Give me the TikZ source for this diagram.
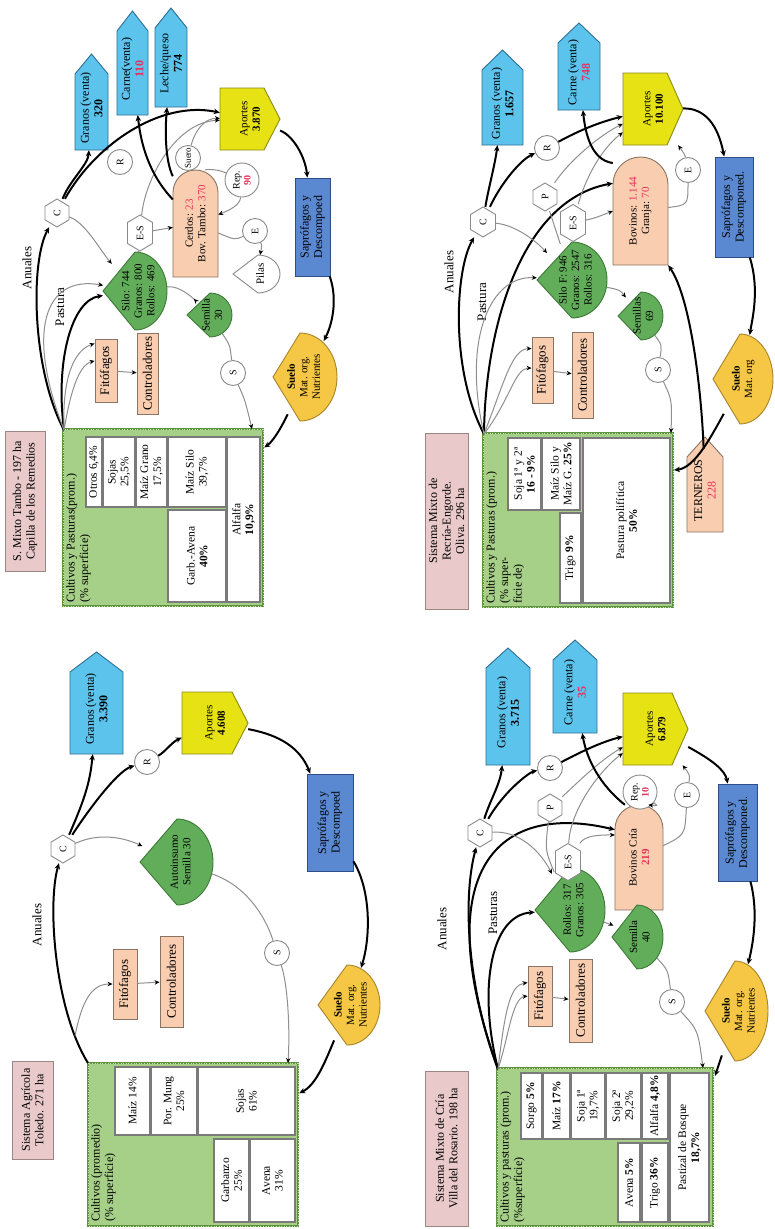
\documentclass[tikz,border=0pt]{standalone}
\usepackage{fontspec}
\setmainfont{Liberation Serif}
\usetikzlibrary{arrows.meta,shapes.geometric}
\definecolor{titlefill}{HTML}{E9C9C9}
\definecolor{titleb}{HTML}{9C8585}
\definecolor{cropfill}{HTML}{A6CF87}
\definecolor{cropdark}{HTML}{5E9440}
\definecolor{croplight}{HTML}{C9E3B5}
\definecolor{peach}{HTML}{F9CDB0}
\definecolor{peachb}{HTML}{8A7463}
\definecolor{dropgreen}{HTML}{62AD5A}
\definecolor{dropgreenb}{HTML}{3C7A36}
\definecolor{skyblue}{HTML}{5CC3EC}
\definecolor{skyb}{HTML}{2F6F93}
\definecolor{yel}{HTML}{E6E213}
\definecolor{yelb}{HTML}{8C8A1C}
\definecolor{saprfill}{HTML}{5A89D2}
\definecolor{saprb}{HTML}{2D4E87}
\definecolor{suelfill}{HTML}{F6C744}
\definecolor{suelb}{HTML}{A8842A}
\definecolor{nodegray}{HTML}{8A8A8A}
\definecolor{linegray}{HTML}{8F8F8F}
\definecolor{cellb}{HTML}{7A7A7A}
\definecolor{numred}{HTML}{E8315B}
\newcommand\fsA{\fontsize{12}{13.5}\selectfont}
\newcommand\fsL{\fontsize{13}{14.5}\selectfont}
\newcommand\fsB{\fontsize{11}{12.5}\selectfont}
\newcommand\fsK{\fontsize{11.5}{12.8}\selectfont}
\newcommand\fsC{\fontsize{10}{11}\selectfont}
\newcommand\redtxt[1]{\textcolor{numred}{#1}}
% rectangle node from page extents: style, name, x1, x2, y1, y2, text
\newcommand\mkbox[7]{\node[#1, minimum width={#6-#5}, minimum height={#4-#3}] (#2) at ({(#3+#4)/2},{(#5+#6)/2}) {#7};}
% box with a point towards the top of the page: style, name, x1, x2, ytip, ybottom, text
\newcommand\mkup[7]{%
  \draw[#1] (#3,#6) -- (#3,{#5+20}) -- ({(#3+#4)/2},#5) -- (#4,{#5+20}) -- (#4,#6) -- cycle;
  \node[inner sep=0pt, minimum width={#6-#5-12}, minimum height={#4-#3}] (#2) at ({(#3+#4)/2},{(#5+#6)/2+6}) {#7};}
% pentagon pointing to the right of the page: name, x1, x2, y1, y2, text
\newcommand\mkaport[6]{%
  \draw[aportst] (#2,#4) -- ({#3-16},#4) -- (#3,{(#4+#5)/2}) -- ({#3-16},#5) -- (#2,#5) -- cycle;
  \node[inner sep=0pt, minimum width={#5-#4}, minimum height={#3-#2}, font=\fsB] (#1) at ({(#2+#3)/2},{(#4+#5)/2}) {#6};}
% box rounded at its top: name, x1, x2, ytop, ybottom, text
\newcommand\mktomb[6]{%
  \draw[peachst] (#2,#5) -- (#2,{#4+(#3-#2)/2})
    .. controls (#2,{#4+(#3-#2)/2*0.4477}) and ({(#2+#3)/2-(#3-#2)/2*0.5523},#4) .. ({(#2+#3)/2},#4)
    .. controls ({(#2+#3)/2+(#3-#2)/2*0.5523},#4) and (#3,{#4+(#3-#2)/2*0.4477}) .. (#3,{#4+(#3-#2)/2})
    -- (#3,#5) -- cycle;
  \node[inner sep=0pt, minimum width={#5-#4}, minimum height={#3-#2}, font=\fsB] (#1) at ({(#2+#3)/2},{(#4+#5)/2}) {#6};}
% drop shape, point to the left of the page: style, name, xpoint, cx, cy, rx, ry, text
\newcommand\mktear[8]{%
  \draw[#1] (#3,#5) -- (#4,{#5-#7})
    .. controls ({#4+0.5523*#6},{#5-#7}) and ({#4+#6},{#5-0.5523*#7}) .. ({#4+#6},#5)
    .. controls ({#4+#6},{#5+0.5523*#7}) and ({#4+0.5523*#6},{#5+#7}) .. (#4,{#5+#7}) -- cycle;
  \node[ellipse, inner sep=0pt, minimum width={2*#7}, minimum height={#4+#6-#3}] (#2) at ({(#3+#4+#6)/2},#5) {};
  \node[inner sep=0pt, font=\fsB] (#2-t) at ({#4+0.1*#6},#5) {#8};}
% hexagon: name, x, y, width across page, height along page, text
\newcommand\mkhex[6]{%
  \draw[hexst] ({#2-#4/2},{#3-#5/2+0.3*#4}) -- (#2,{#3-#5/2}) -- ({#2+#4/2},{#3-#5/2+0.3*#4})
    -- ({#2+#4/2},{#3+#5/2-0.3*#4}) -- (#2,{#3+#5/2}) -- ({#2-#4/2},{#3+#5/2-0.3*#4}) -- cycle;
  \node[inner sep=0pt, minimum width={#5}, minimum height={#4}, font=\fsC] (#1) at (#2,#3) {#6};}
\begin{document}
\begin{tikzpicture}[x=1pt, y=-1pt,
  every node/.style={rotate=90, align=center, inner sep=1pt, font=\fsA},
  lbl/.style={font=\fsL},
  titlebox/.style={draw=titleb, fill=titlefill, line width=0.9pt, inner sep=1pt},
  peachbox/.style={draw=peachb, fill=peach, line width=0.9pt, inner sep=1pt, font=\fsL},
  saprbox/.style={draw=saprb, fill=saprfill, line width=0.9pt, inner sep=1pt},
  cropbox/.style={fill=cropfill, draw=cropdark, line width=2.4pt,
    postaction={draw=croplight, line width=1pt, dash pattern=on 1pt off 1.6pt}},
  cell/.style={fill=white, draw=cellb, line width=1.2pt, inner sep=1pt, font=\fsK},
  cropnote/.style={anchor=north west, align=left, font=\fsA, inner sep=0pt},
  greendrop/.style={fill=dropgreen, draw=dropgreenb, line width=0.9pt},
  sueldrop/.style={fill=suelfill, draw=suelb, line width=0.9pt},
  whitedrop/.style={fill=white, draw=nodegray, line width=0.9pt},
  peachst/.style={fill=peach, draw=peachb, line width=0.9pt},
  salest/.style={fill=skyblue, draw=skyb, line width=0.9pt},
  ternst/.style={fill=peach, draw=peachb, line width=0.9pt},
  aportst/.style={fill=yel, draw=yelb, line width=0.9pt},
  hexst/.style={fill=white, draw=nodegray, line width=0.9pt},
  circ/.style={circle, draw=nodegray, fill=white, line width=0.9pt, inner sep=0.5pt, minimum size=25, font=\fsC},
  bigcirc/.style={circ, minimum size=34},
  flow/.style={draw=black, line width=2pt, -{Stealth[length=6pt,width=5.5pt]}},
  gflow/.style={draw=linegray, line width=1pt, -{Stealth[length=5pt,width=4.5pt,color=black]}},
  gline/.style={draw=linegray, line width=1pt}]
\useasboundingbox (0,0) rectangle (775,1229);
\fill[white] (0,0) rectangle (775,1229);

%% ---------------- Sistema Agricola, Toledo ----------------
\mkbox{titlebox}{A-title}{12}{53}{1061}{1159}{Sistema Agrícola\\Toledo. 271 ha}
\mkbox{cropbox}{A-crops}{88}{298}{1063}{1226}{}
\node[cropnote] (A-ct) at (91,1222) {Cultivos (promedio)\\(\% superficie)};
\mkbox{cell}{A-c1}{115}{150}{1067}{1135}{Maíz 14\%}
\mkbox{cell}{A-c2}{151}{197}{1067}{1135}{Por. Mung\\25\%}
\mkbox{cell}{A-c3}{198}{295}{1067}{1135}{Sojas\\61\%}
\mkbox{cell}{A-c4}{214}{249}{1139}{1222}{Garbanzo\\25\%}
\mkbox{cell}{A-c5}{250}{295}{1139}{1222}{Avena\\31\%}
\mkbox{peachbox}{A-fito}{113}{137}{949}{1019}{Fitófagos}
\mkbox{peachbox}{A-ctrl}{160}{183}{936}{1027}{Controladores}
\node[lbl] (A-anu) at (37,925) {Anuales};
\mkhex{A-C}{63}{849}{24}{28}{C}
\mkup{salest}{A-gran}{70}{123}{652}{754}{Granos (venta)\\\textbf{3.390}}
\mkaport{A-apor}{182}{248}{692}{754}{Aportes\\\textbf{4.608}}
\mktear{greendrop}{A-auto}{140}{177}{862}{36}{43}{Autoinsumo\\Semilla 30}
\mkbox{saprbox}{A-sapr}{307}{353}{774}{871}{Saprófagos y\\Descompoed}
\mktear{sueldrop}{A-suelo}{318}{347}{1005}{33}{40}{\textbf{Suelo}\\Mat. org.\\Nutrientes}
\node[circ] (A-R) at (147,762) {R};
\node[circ] (A-S) at (277,953) {S};
\coordinate (A-corner) at (88,1063);
\coordinate (A-j1) at (75,1036);
\coordinate (A-in) at (288,1063);
\draw[flow] (A-corner) .. controls (55,1010) and (47,905) .. (A-C);
\draw[gflow] (A-j1) .. controls (82,1000) and (92,984) .. (A-fito.north);
\draw[gflow] (A-fito) -- (A-ctrl);
\draw[flow] (A-C) .. controls (82,805) and (90,785) .. (A-gran);
\draw[flow] (A-C) .. controls (95,800) and (120,770) .. (A-R);
\draw[flow] (A-R) .. controls (165,752) and (172,742) .. (A-apor);
\draw[gflow] (A-C) .. controls (100,832) and (125,838) .. (A-auto);
\draw[gline] (A-auto) .. controls (245,885) and (265,915) .. (A-S);
\draw[gflow] (A-S) .. controls (288,985) and (290,1030) .. (A-in);
\draw[flow] (A-apor) .. controls (280,735) and (300,748) .. (A-sapr);
\draw[flow] (A-sapr) .. controls (372,892) and (370,940) .. (A-suelo);
\draw[flow] (A-suelo) .. controls (325,1062) and (316,1085) .. (A-crops);

%% ---------------- S. Mixto Tambo ----------------
\mkbox{titlebox}{B-title}{5}{45}{431}{571}{S. Mixto Tambo - 197 ha\\Capilla de los Remedios}
\mkbox{cropbox}{B-crops}{63}{263}{429}{606}{}
\node[cropnote] (B-ct) at (66,603) {Cultivos y Pasturas(prom.)\\(\% superficie)};
\mkbox{cell}{B-c1}{86}{102}{437}{507}{Otros 6,4\%}
\mkbox{cell}{B-c2}{103}{135}{437}{507}{Sojas\\25,5\%}
\mkbox{cell}{B-c3}{136}{167}{437}{507}{Maíz Grano\\17,5\%}
\mkbox{cell}{B-c4}{168}{226}{437}{507}{Maíz Silo\\39,7\%}
\mkbox{cell}{B-c5}{168}{226}{510}{602}{Garb.-Avena\\\textbf{40\%}}
\mkbox{cell}{B-c6}{227}{260}{437}{602}{Alfalfa\\\textbf{10,9\%}}
\mkbox{peachbox}{B-fito}{95}{117}{339}{402}{Fitófagos}
\mkbox{peachbox}{B-ctrl}{137}{158}{333}{414}{Controladores}
\node[lbl] (B-anu) at (27,268) {Anuales};
\node[lbl] (B-pas) at (60,307) {Pastura};
\mkhex{B-C}{57}{213}{24}{28}{C}
\mktear{greendrop}{B-silo}{103}{135}{291}{32}{39}{Silo: 744\\Granos: 800\\Rollos: 469}
\mktear{greendrop}{B-semi}{187}{210}{315}{22}{22}{Semilla\\30}
\mkup{salest}{B-gran}{75}{108}{54}{150}{Granos (venta)\\\textbf{320}}
\mkup{salest}{B-carne}{117}{148}{11}{115}{Carne(venta)\\\redtxt{\textbf{110}}}
\mkup{salest}{B-leche}{155}{187}{8}{107}{Leche/queso\\\textbf{774}}
\mkaport{B-apor}{220}{280}{88}{150}{Aportes\\\textbf{3.870}}
\mktomb{B-cerd}{173}{218}{170}{277}{Cerdos: \redtxt{23}\\Bov. Tambo: \redtxt{370}}
\mktear{whitedrop}{B-pilas}{233}{258}{274}{22}{19}{Pilas}
\mkbox{saprbox}{B-sapr}{295}{330}{178}{276}{Saprófagos y\\Descompoed}
\mktear{sueldrop}{B-suelo}{273}{300}{377}{37}{44}{\textbf{Suelo}\\Mat. org.\\Nutrientes}
\node[circ] (B-R) at (120,162) {R};
\mkhex{B-ES}{140}{233}{25}{36}{E-S}
\node[circ, font=\fontsize{9}{10}\selectfont] (B-suero) at (188,158) {Suero};
\node[bigcirc] (B-rep) at (242,180) {Rep.\\\redtxt{\textbf{90}}};
\node[circ] (B-E) at (255,231) {E};
\node[circ] (B-S) at (233,373) {S};
\coordinate (B-corner) at (64,430);
\coordinate (B-in) at (252,429);
\draw[flow] (B-corner) .. controls (32,370) and (30,262) .. (B-C);
\draw[flow] (B-corner) .. controls (55,360) and (72,300) .. (B-silo);
\draw[gflow] (B-corner) .. controls (25,330) and (45,275) .. (B-silo);
\draw[gflow] (B-corner) .. controls (62,375) and (75,350) .. (B-fito.23);
\draw[gflow] (B-corner) .. controls (70,395) and (78,365) .. (B-fito.50);
\draw[gflow] (B-fito) -- (B-ctrl);
\draw[gflow] (B-C) .. controls (85,222) and (100,250) .. (B-silo);
\draw[flow] (B-C) .. controls (70,180) and (88,165) .. (B-gran);
\draw[flow] (B-C) .. controls (95,145) and (160,100) .. (B-apor);
\draw[gline] (B-silo) -- (B-ES);
\draw[gflow] (B-ES) .. controls (145,180) and (175,122) .. (B-apor);
\draw[gflow] (B-ES) -- (B-cerd);
\draw[gflow] (B-suero) .. controls (195,130) and (205,118) .. (B-apor);
\draw[flow] (B-cerd) .. controls (145,170) and (140,135) .. (B-carne);
\draw[flow] (B-cerd) .. controls (165,160) and (165,130) .. (B-leche);
\draw[gline] (B-cerd) .. controls (205,170) and (215,168) .. (B-rep);
\draw[gflow] (B-rep) .. controls (240,205) and (230,210) .. (B-cerd);
\draw[gline] (B-cerd) .. controls (235,240) .. (B-E);
\draw[gflow] (B-E) .. controls (262,245) .. (B-pilas);
\draw[gflow] (B-silo) .. controls (180,285) and (195,300) .. (B-semi);
\draw[gline] (B-semi) .. controls (230,345) .. (B-S);
\draw[gflow] (B-S) .. controls (245,400) .. (B-in);
\draw[flow] (B-apor) .. controls (292,135) and (305,155) .. (B-sapr);
\draw[flow] (B-sapr) .. controls (338,300) and (332,325) .. (B-suelo);
\draw[flow] (B-suelo) .. controls (285,420) and (275,440) .. (B-crops);

%% ---------------- Sistema Mixto de Cria ----------------
\mkbox{titlebox}{C-title}{425}{468}{1071}{1226}{Sistema Mixto de Cría\\Villa del Rosario. 198 ha}
\mkbox{cropbox}{C-crops}{497}{713}{1068}{1226}{}
\node[cropnote] (C-ct) at (500,1223) {Cultivos y pasturas (prom.)\\(\%superficie)};
\mkbox{cell}{C-c1}{521}{542}{1073}{1139}{Sorgo \textbf{5\%}}
\mkbox{cell}{C-c2}{543}{570}{1073}{1139}{Maíz \textbf{17\%}}
\mkbox{cell}{C-c3}{571}{605}{1073}{1139}{Soja 1ª\\19,7\%}
\mkbox{cell}{C-c4}{606}{641}{1073}{1139}{Soja 2ª\\29,2\%}
\mkbox{cell}{C-c5}{642}{668}{1073}{1139}{Alfalfa \textbf{4,8\%}}
\mkbox{cell}{C-c6}{618}{640}{1143}{1222}{Avena \textbf{5\%}}
\mkbox{cell}{C-c7}{642}{668}{1143}{1222}{Trigo \textbf{36\%}}
\mkbox{cell}{C-c8}{670}{709}{1073}{1222}{Pastizal de Bosque\\\textbf{18,7\%}}
\mkbox{peachbox}{C-fito}{528}{552}{966}{1026}{Fitófagos}
\mkbox{peachbox}{C-ctrl}{569}{592}{959}{1042}{Controladores}
\node[lbl] (C-anu) at (442,929) {Anuales};
\node[lbl] (C-pas) at (493,913) {Pasturas};
\mkhex{C-C}{480}{833}{24}{28}{C}
\mkup{salest}{C-gran}{486}{530}{648}{765}{Granos (venta)\\\textbf{3.715}}
\mkup{salest}{C-carne}{553}{597}{640}{733}{Carne (venta)\\\redtxt{\textbf{35}}}
\mkaport{C-apor}{623}{688}{693}{765}{Aportes\\\textbf{6.879}}
\mktomb{C-bov}{615}{663}{805}{910}{Bovinos Cría\\\redtxt{\textbf{219}}}
\mktear{greendrop}{C-roll}{535}{570}{910}{35}{42}{Rollos: 317\\Granos: 305}
\mktear{greendrop}{C-semi}{612}{637}{937}{26}{32}{Semilla\\40}
\mkbox{saprbox}{C-sapr}{718}{757}{784}{881}{Saprófagos y\\Descomponed.}
\mktear{sueldrop}{C-suelo}{705}{735}{1011}{33}{50}{\textbf{Suelo}\\Mat. org.\\Nutrientes}
\node[circ] (C-R) at (550,768) {R};
\mkhex{C-P}{550}{808}{24}{28}{P}
\mkhex{C-ES}{568}{862}{25}{37}{E-S}
\node[bigcirc] (C-rep) at (640,792) {Rep.\\\redtxt{\textbf{10}}};
\node[circ] (C-E) at (687,795) {E};
\node[circ] (C-S) at (672,1002) {S};
\coordinate (C-corner) at (498,1069);
\coordinate (C-in) at (703,1068);
\coordinate (C-in2) at (715,1076);
\draw[flow] (C-corner) .. controls (468,990) and (462,900) .. (C-C);
\draw[flow] (C-corner) .. controls (430,880) and (490,800) .. (C-bov.41);
\draw[flow] (C-corner) .. controls (478,990) and (490,915) .. (C-roll);
\draw[gflow] (C-corner) .. controls (505,1010) and (510,985) .. (C-fito.43);
\draw[gflow] (C-corner) .. controls (508,1040) and (512,998) .. (C-fito.north);
\draw[gflow] (C-fito) -- (C-ctrl);
\draw[flow] (C-C) .. controls (490,800) and (500,785) .. (C-gran);
\draw[flow] (C-C) .. controls (505,790) and (530,772) .. (C-R);
\draw[flow] (C-R) .. controls (575,755) and (600,742) .. (C-apor);
\draw[gflow] (C-C) .. controls (525,830) and (545,860) .. (C-roll);
\draw[gline] (C-roll) .. controls (545,850) .. (C-P);
\draw[gflow] (C-P) .. controls (575,785) and (600,760) .. (C-apor);
\draw[gflow] (C-ES) .. controls (585,835) and (600,835) .. (C-bov.47);
\draw[gflow] (C-ES) .. controls (570,810) and (600,770) .. (C-apor);
\draw[flow] (C-bov.15) .. controls (600,785) and (587,760) .. (C-carne);
\draw[gflow] (C-rep) .. controls (658,806) .. (C-bov.-10);
\draw[gline] (C-bov) .. controls (685,835) .. (C-E);
\draw[gflow] (C-E) .. controls (690,775) .. (C-apor);
\draw[gflow] (C-roll) .. controls (612,925) .. (C-semi);
\draw[gline] (C-semi) .. controls (668,970) .. (C-S);
\draw[gflow] (C-S) .. controls (698,1030) .. (C-in);
\draw[flow] (C-apor) .. controls (712,760) and (725,770) .. (C-sapr);
\draw[flow] (C-sapr) .. controls (758,910) and (754,940) .. (C-suelo);
\draw[flow] (C-suelo) .. controls (722,1055) .. (C-in2);

%% ---------------- Sistema Mixto de Recria-Engorde ----------------
\mkbox{titlebox}{D-title}{425}{468}{433}{609}{Sistema Mixto de\\Recría-Engorde.\\Oliva. 296 ha}
\mkbox{cropbox}{D-crops}{483}{673}{433}{607}{}
\node[cropnote] (D-ct) at (486,604) {Cultivos y Pasturas (prom.)\\(\% super-\\ficie de)};
\mkbox{cell}{D-c1}{508}{541}{438}{510}{Soja 1ª y 2ª\\\textbf{16 - 9\%}}
\mkbox{cell}{D-c2}{542}{580}{438}{510}{Maíz Silo y\\Maíz G. \textbf{25\%}}
\mkbox{cell}{D-c3}{560}{581}{513}{603}{Trigo \textbf{9\%}}
\mkbox{cell}{D-c4}{583}{670}{438}{603}{Pastura polifítica\\\textbf{50\%}}
\mkbox{peachbox}{D-fito}{532}{553}{337}{403}{Fitófagos}
\mkbox{peachbox}{D-ctrl}{572}{593}{332}{418}{Controladores}
\node[lbl] (D-anu) at (449,272) {Anuales};
\node[lbl] (D-pas) at (482,302) {Pastura};
\mkhex{D-C}{483}{222}{25}{30}{C}
\mkup{salest}{D-gran}{482}{523}{50}{145}{Granos (venta)\\\textbf{1.657}}
\mkup{salest}{D-carne}{558}{600}{23}{110}{Carne (venta)\\\redtxt{\textbf{748}}}
\mkaport{D-apor}{623}{683}{73}{145}{Aportes\\\textbf{10.100}}
\mktomb{D-bov}{613}{668}{157}{265}{Bovinos: \redtxt{1.144}\\Granja: \redtxt{70}}
\mktear{greendrop}{D-silo}{537}{572}{280}{35}{38}{Silo F: 946\\Granos: 2547\\Rollos: 316}
\mktear{greendrop}{D-semi}{618}{641}{316}{22}{24}{Semillas\\69}
\mkbox{saprbox}{D-sapr}{715}{753}{157}{257}{Saprófagos y\\Descomponed.}
\mktear{sueldrop}{D-suelo}{713}{740}{379}{33}{45}{\textbf{Suelo}\\Mat. org}
\mkup{ternst}{D-tern}{687}{723}{437}{532}{TERNEROS\\\redtxt{228}}
\node[circ] (D-R) at (547,148) {R};
\mkhex{D-P}{545}{197}{24}{28}{P}
\mkhex{D-ES}{573}{223}{25}{37}{E-S}
\node[circ] (D-E) at (688,170) {E};
\node[circ] (D-S) at (658,370) {S};
\coordinate (D-corner) at (484,434);
\coordinate (D-in) at (671,433);
\coordinate (D-in2) at (674,470);
\draw[flow] (D-corner) .. controls (450,370) and (455,270) .. (D-C);
\draw[flow] (D-corner) .. controls (485,330) and (520,200) .. (D-bov.45);
\draw[gflow] (D-corner) .. controls (462,340) and (490,275) .. (D-silo);
\draw[gflow] (D-corner) .. controls (505,380) and (512,349) .. (D-fito.27);
\draw[gflow] (D-corner) .. controls (510,400) and (515,368) .. (D-fito.80);
\draw[gflow] (D-fito) -- (D-ctrl);
\draw[flow] (D-C) .. controls (488,190) and (495,165) .. (D-gran);
\draw[flow] (D-C) .. controls (500,185) and (520,160) .. (D-R);
\draw[flow] (D-R) .. controls (580,130) and (600,122) .. (D-apor);
\draw[gflow] (D-C) .. controls (515,225) and (535,240) .. (D-silo);
\draw[gline] (D-silo) -- (D-P);
\draw[gflow] (D-P) .. controls (570,160) and (600,135) .. (D-apor);
\draw[gflow] (D-ES) .. controls (595,218) .. (D-bov.north);
\draw[gflow] (D-ES) .. controls (585,180) and (600,150) .. (D-apor);
\draw[flow] (D-bov.30) .. controls (590,160) and (585,130) .. (D-carne);
\draw[gline] (D-bov) .. controls (688,205) .. (D-E);
\draw[gflow] (D-E) .. controls (685,155) .. (D-apor);
\draw[flow] (D-tern) .. controls (702,400) and (692,300) .. (D-bov.south west);
\draw[gflow] (D-silo) .. controls (620,290) .. (D-semi);
\draw[gline] (D-semi) .. controls (662,345) .. (D-S);
\draw[gflow] (D-S) .. controls (672,400) .. (D-in);
\draw[flow] (D-apor) .. controls (705,108) and (718,125) .. (D-sapr);
\draw[flow] (D-sapr) .. controls (760,290) and (752,320) .. (D-suelo);
\draw[flow] (D-suelo) .. controls (712,435) and (695,468) .. (D-in2);
\end{tikzpicture}
\end{document}
